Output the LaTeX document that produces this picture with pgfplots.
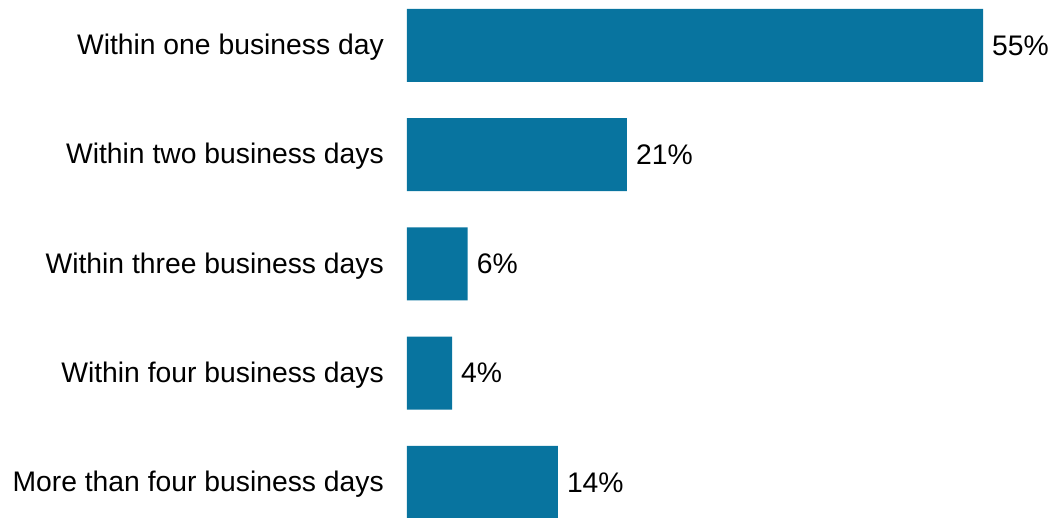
\documentclass[border=0pt]{standalone}
\usepackage{pgfplots}
\pgfplotsset{compat=1.18}
\usepackage{fontspec}
\setmainfont{Liberation Sans}
\definecolor{barblue}{HTML}{08749F}
\begin{document}
\begin{tikzpicture}
\useasboundingbox (-407pt,0pt) rectangle (647pt,517pt);
\begin{axis}[
  at={(0pt,0pt)}, anchor=south west,
  scale only axis,
  width=576pt, height=517pt,
  xmin=0, xmax=55,
  ymin=-0.416, ymax=4.318,
  y dir=reverse,
  xbar, bar width=73pt,
  axis line style={draw=none},
  major tick length=0pt,
  xtick=\empty,
  ytick={0,1,2,3,4},
  yticklabels={Within one business day, Within two business days, Within three business days, Within four business days, More than four business days},
  yticklabel style={font=\fontsize{28.3}{34}\selectfont, anchor=east, inner sep=0pt, xshift=-23pt, yshift=-2pt},
  clip=false,
  point meta=x,
  /pgf/number format/assume math mode=true,
  nodes near coords={\pgfmathprintnumber[fixed,precision=0,assume math mode=true]{\pgfplotspointmeta}\%},
  nodes near coords style={font=\fontsize{28.3}{34}\selectfont, anchor=west, inner sep=0pt, xshift=9pt, black},
]
\addplot[fill=barblue, draw=none] coordinates {(55,0) (21,1) (5.8,2) (4.3,3) (14.4,4)};
\end{axis}
\end{tikzpicture}
\end{document}
